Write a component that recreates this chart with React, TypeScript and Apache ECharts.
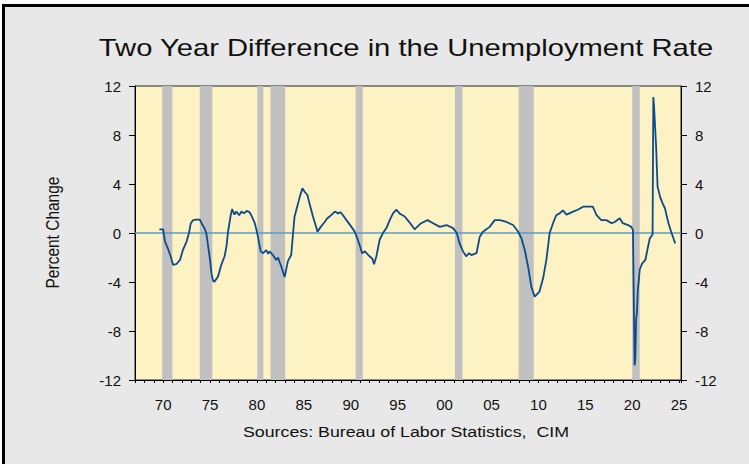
import React, { useEffect, useRef } from "react";
import * as echarts from "echarts";

// Decimal-year dates and the two-year difference (as plotted)
const dates: number[] = [
  // 1969-1974
  1969.6, 1970.0, 1970.2, 1970.5, 1970.8, 1971.05, 1971.4, 1971.8, 1972.1, 1972.5, 1972.75, 1972.95, 1973.2, 1973.55, 1973.9, 1974.1, 1974.4, 1974.6, 1974.8,
  // 1975-1979
  1975.0, 1975.15, 1975.3, 1975.45, 1975.85, 1976.2, 1976.55, 1976.75, 1976.9, 1977.2, 1977.35, 1977.6, 1977.8, 1978.1, 1978.35, 1978.6, 1978.9, 1979.2, 1979.4, 1979.77, 1979.95,
  // 1980-1984
  1980.1, 1980.4, 1980.65, 1981.0, 1981.2, 1981.35, 1981.7, 1982.05, 1982.25, 1982.4, 1982.6, 1982.95, 1983.3, 1983.65, 1983.85, 1984.0, 1984.38, 1984.56, 1984.85,
  // 1985-1989
  1985.1, 1985.38, 1985.6, 1985.97, 1986.34, 1986.45, 1986.8, 1987.22, 1987.5, 1987.76, 1988.3, 1988.65, 1988.9, 1989.17, 1989.54,
  // 1990-1994
  1990.07, 1990.42, 1990.7, 1990.95, 1991.2, 1991.5, 1992.0, 1992.3, 1992.48, 1992.73, 1993.08, 1993.43, 1993.8, 1994.15, 1994.5, 1994.86,
  // 1995-1999
  1995.2, 1995.75, 1996.28, 1996.8, 1997.5, 1998.2, 1998.77, 1999.5,
  // 2000-2004
  2000.2, 2000.9, 2001.3, 2001.6, 2001.96, 2002.3, 2002.6, 2002.86, 2003.4, 2003.75, 2004.1, 2004.8,
  // 2005-2009
  2005.35, 2005.9, 2006.6, 2007.3, 2007.85, 2008.2, 2008.55, 2008.9, 2009.25, 2009.6,
  // 2010-2014
  2010.1, 2010.5, 2010.85, 2011.2, 2011.56, 2011.9, 2012.26, 2012.6, 2013.0, 2013.7, 2014.2, 2014.75,
  // 2015-2019
  2015.47, 2015.8, 2016.2, 2016.7, 2017.25, 2017.8, 2018.14, 2018.67, 2019.0, 2019.55, 2019.9,
  // 2020-2024
  2020.08, 2020.25, 2020.33, 2020.42, 2020.5, 2020.6, 2020.8, 2021.05, 2021.4, 2021.65, 2021.87, 2022.1, 2022.17, 2022.25, 2022.33, 2022.55, 2022.7, 2022.97, 2023.25, 2023.5, 2023.7, 2023.87, 2024.15, 2024.4, 2024.58,
];

const changes: number[] = [
  // 1969-1974
  0.3, 0.3, -0.7, -1.25, -1.9, -2.6, -2.55, -2.2, -1.4, -0.7, 0.0, 0.8, 1.05, 1.1, 1.1, 0.8, 0.4, 0.0, -1.1,
  // 1975-1979
  -2.2, -3.3, -3.85, -4.0, -3.55, -2.6, -1.9, -1.1, 0.0, 1.45, 1.95, 1.5, 1.75, 1.45, 1.75, 1.6, 1.8, 1.7, 1.45, 0.8, 0.25,
  // 1980-1984
  -0.3, -1.5, -1.65, -1.4, -1.7, -1.5, -1.8, -2.2, -2.0, -2.35, -2.75, -3.6, -2.3, -1.8, 0.0, 1.3, 2.4, 2.95, 3.65,
  // 1985-1989
  3.35, 3.1, 2.4, 1.35, 0.4, 0.1, 0.5, 0.9, 1.2, 1.35, 1.75, 1.6, 1.7, 1.45, 1.05,
  // 1990-1994
  0.5, 0.1, -0.45, -1.0, -1.65, -1.5, -1.9, -2.1, -2.55, -1.9, -0.55, 0.0, 0.4, 1.05, 1.6, 1.9,
  // 1995-1999
  1.6, 1.35, 0.85, 0.3, 0.8, 1.05, 0.8, 0.5,
  // 2000-2004
  0.65, 0.4, 0.0, -0.85, -1.5, -1.9, -1.65, -1.8, -1.65, -0.3, 0.1, 0.5,
  // 2005-2009
  1.05, 1.05, 0.9, 0.65, 0.1, -0.45, -1.4, -2.75, -4.4, -5.2,
  // 2010-2014
  -4.8, -3.7, -2.2, 0.0, 0.8, 1.45, 1.6, 1.85, 1.5, 1.75, 1.9, 2.15,
  // 2015-2019
  2.15, 2.15, 1.45, 1.05, 1.05, 0.8, 0.9, 1.2, 0.8, 0.65, 0.5,
  // 2020-2024
  0.25, -10.8, -10.2, -7.0, -6.5, -4.7, -3.0, -2.5, -2.2, -1.25, -0.45, -0.2, -0.1, 11.1, 10.3, 7.0, 3.8, 2.95, 2.4, 2.0, 1.3, 0.8, 0.1, -0.45, -0.85,
];

// Recession shading (decimal years)
const recessionStarts: number[] = [1969.9, 1973.9, 1980.04, 1981.45, 1990.52, 2001.1, 2007.9, 2020.0];
const recessionEnds: number[] = [1970.98, 1975.24, 1980.68, 1983.0, 1991.27, 2001.9, 2009.5, 2020.8];

const majorTickYears: number[] = [1970, 1975, 1980, 1985, 1990, 1995, 2000, 2005, 2010, 2015, 2020, 2025];
const X_MIN = 1967;
const X_MAX = 2025.2;
const Y_MIN = -12;
const Y_MAX = 12;
const MAJOR_TICK_DEPTH = 0.42; // in y units below the axis (about 5 px)

const titleText = "Two Year Difference in the Unemployment Rate";
const sourceText = "Sources: Bureau of Labor Statistics,  CIM";
const yAxisTitle = "Percent Change";

const FONT = "'Liberation Sans', Arial, Helvetica, sans-serif";

export default function App() {
  const ref = useRef<HTMLDivElement>(null);

  useEffect(() => {
    if (!ref.current) return;
    const chart = echarts.init(ref.current, undefined, { renderer: "svg" });

    const seriesData = dates.map((d, i) => [d, changes[i]]);
    const areas = recessionStarts.map((s, i) => [{ xAxis: s }, { xAxis: recessionEnds[i] }]);
    const majorTickSegments = majorTickYears.map((y) => [
      { coord: [y, Y_MIN] },
      { coord: [y, Y_MIN - MAJOR_TICK_DEPTH] },
    ]);

    const yAxisCommon = {
      type: "value",
      min: Y_MIN,
      max: Y_MAX,
      interval: 4,
      splitLine: { show: false },
      axisLine: { show: true, onZero: false, lineStyle: { color: "#000", width: 1 } },
      axisTick: { show: true, inside: false, length: 6, lineStyle: { color: "#000" } },
      axisLabel: { color: "#111", fontSize: 15, fontFamily: FONT, margin: 14 },
    };

    chart.setOption({
      animation: false,
      backgroundColor: "transparent",
      graphic: [
        {
          type: "rect",
          z: -10,
          silent: true,
          shape: { x: 3.5, y: 5.5, width: 800, height: 500 },
          style: { fill: "#e8e8e8", stroke: "#000", lineWidth: 3 },
        },
        {
          type: "text",
          x: 406,
          y: 48,
          scaleX: 1.27,
          style: {
            text: titleText,
            fontSize: 23,
            fontFamily: FONT,
            fill: "#111",
            align: "center",
            verticalAlign: "middle",
            textAlign: "center",
            textVerticalAlign: "middle",
          },
        },
        {
          type: "text",
          x: 406,
          y: 432,
          scaleX: 1.27,
          style: {
            text: sourceText,
            fontSize: 14,
            fontFamily: FONT,
            fill: "#111",
            align: "center",
            verticalAlign: "middle",
            textAlign: "center",
            textVerticalAlign: "middle",
          },
        },
        {
          type: "text",
          x: 53.5,
          y: 232.5,
          rotation: Math.PI / 2,
          scaleY: 1.15,
          style: {
            text: yAxisTitle,
            fontSize: 15.5,
            fontFamily: FONT,
            fill: "#111",
            align: "center",
            verticalAlign: "middle",
            textAlign: "center",
            textVerticalAlign: "middle",
          },
        },
      ],
      grid: {
        left: 135,
        top: 86,
        width: 546,
        height: 294,
        show: true,
        backgroundColor: "#fcf2c4",
        borderColor: "#222",
        borderWidth: 1,
      },
      xAxis: {
        type: "value",
        min: X_MIN,
        max: X_MAX,
        interval: 1,
        position: "bottom",
        splitLine: { show: false },
        axisLine: { show: true, onZero: false, lineStyle: { color: "#000", width: 1 } },
        axisTick: {
          show: true,
          inside: false,
          length: 3,
          lineStyle: { color: "#000", width: 1 },
        },
        axisLabel: {
          show: true,
          customValues: majorTickYears,
          color: "#111",
          fontSize: 15,
          fontFamily: FONT,
          margin: 17,
          formatter: (v: number) => String(Math.round(v) % 100).padStart(2, "0"),
        },
      },
      yAxis: [
        { ...yAxisCommon, position: "left" },
        { ...yAxisCommon, position: "right" },
      ],
      series: [
        {
          type: "line",
          name: "shading",
          xAxisIndex: 0,
          yAxisIndex: 0,
          data: seriesData,
          showSymbol: false,
          silent: true,
          clip: false,
          lineStyle: { opacity: 0 },
          z: 1,
          markArea: {
            silent: true,
            itemStyle: { color: "#c0c0c0", opacity: 1 },
            data: areas,
          },
          markLine: {
            silent: true,
            symbol: "none",
            label: { show: false },
            lineStyle: { color: "#5b9dc2", width: 1.5, type: "solid" },
            data: [{ yAxis: 0 }],
          },
        },
        {
          type: "line",
          name: "Two Year Difference",
          xAxisIndex: 0,
          yAxisIndex: 0,
          data: seriesData,
          showSymbol: false,
          z: 5,
          lineStyle: { color: "#0c4a8c", width: 1.8 },
        },
        {
          // longer major ticks every five years, below the x axis
          type: "line",
          name: "major ticks",
          xAxisIndex: 0,
          yAxisIndex: 0,
          data: seriesData,
          showSymbol: false,
          clip: false,
          silent: true,
          lineStyle: { opacity: 0 },
          z: 6,
          markLine: {
            silent: true,
            symbol: "none",
            label: { show: false },
            lineStyle: { color: "#000", width: 1, type: "solid" },
            data: majorTickSegments,
          },
        },
      ],
    });

    return () => {
      chart.dispose();
    };
  }, []);

  return (
    <div
      style={{ position: "fixed", left: 0, top: 0, width: 749, height: 464, background: "#fff", overflow: "hidden" }}
    >
      <div ref={ref} style={{ width: 749, height: 464 }} />
    </div>
  );
}
